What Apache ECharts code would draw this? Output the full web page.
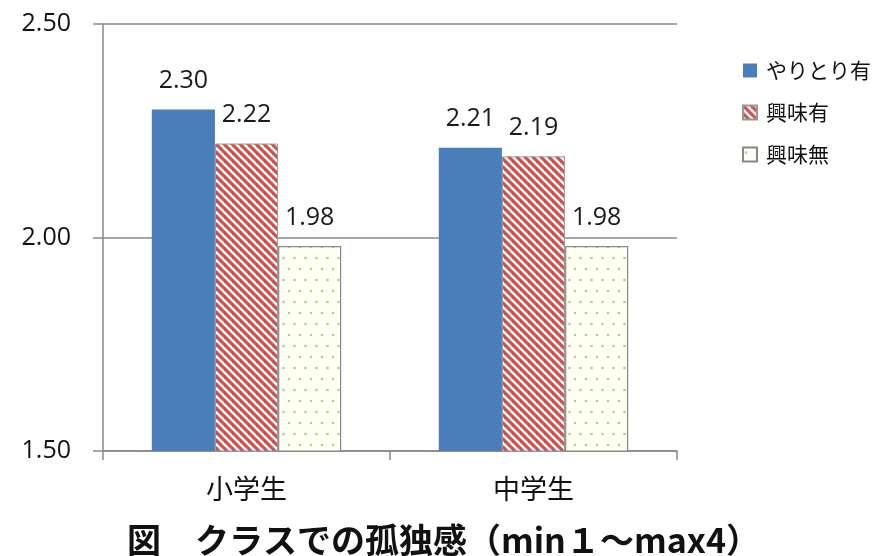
<!DOCTYPE html>
<html><head><meta charset="utf-8">
<script src="https://cdn.jsdelivr.net/npm/echarts@6/dist/echarts.min.js"></script>
<style>html,body{margin:0;padding:0;background:#fff}#c{width:891px;height:556px}</style>
</head><body><div id="c"></div>
<script>
const categories = ['小学生', '中学生'];
const seriesNames = ['やりとり有', '興味有', '興味無'];
const exchangeValues = [2.30, 2.21];
const interestValues = [2.22, 2.19];
const noInterestValues = [1.98, 1.98];
const titleText = '図　クラスでの孤独感（min１～max4）';

function stripe() {
  const c = document.createElement('canvas'); c.width = 8; c.height = 8;
  const g = c.getContext('2d');
  g.fillStyle = '#ffffff'; g.fillRect(0, 0, 8, 8);
  g.strokeStyle = '#d0504d'; g.lineWidth = 3.2;
  [[-8,-8,16,16],[-8,0,8,16],[0,-8,16,8]].forEach(l => { g.beginPath(); g.moveTo(l[0],l[1]); g.lineTo(l[2],l[3]); g.stroke(); });
  return c;
}
function dots() {
  const c = document.createElement('canvas'); c.width = 11; c.height = 22;
  const g = c.getContext('2d');
  g.fillStyle = '#fffff4'; g.fillRect(0, 0, 11, 22);
  g.fillStyle = '#b4cc8c';
  [[3,5],[8.5,16]].forEach(p => { g.beginPath(); g.arc(p[0], p[1], 1.3, 0, Math.PI*2); g.fill(); });
  return c;
}
const chart = echarts.init(document.getElementById('c'));
const font = '"Noto Sans CJK JP", "Noto Sans", sans-serif';
const numFont = '"Open Sans", "Noto Sans", sans-serif';
const labelCfg = { show: true, position: 'top', distance: 16, fontSize: 25, color: '#1a1a1a', fontFamily: numFont, formatter: p => p.value.toFixed(2) };
chart.setOption({
  animation: false,
  title: { text: titleText, left: 122, top: 518, textStyle: { fontSize: 34, fontWeight: 'bold', color: '#111', fontFamily: font } },
  legend: { orient: 'vertical', left: 737, top: 55, itemWidth: 14, itemHeight: 14, itemGap: 21, icon: 'rect',
    textStyle: { fontSize: 21, color: '#111', fontFamily: font, padding: [0, 0, 0, 4] }, data: seriesNames },
  grid: { left: 103, right: 214, top: 24, bottom: 105, containLabel: false },
  xAxis: { type: 'category', data: categories,
    axisLine: { lineStyle: { color: '#888', width: 1.5 } },
    axisTick: { show: true, length: 9, lineStyle: { color: '#888', width: 1.5 } },
    axisLabel: { fontSize: 27, color: '#111', margin: 24, fontFamily: font } },
  yAxis: { type: 'value', min: 1.5, max: 2.5, interval: 0.5,
    axisLine: { show: true, lineStyle: { color: '#888', width: 1.5 } },
    axisTick: { show: true, length: 10, lineStyle: { color: '#888', width: 1.5 } },
    splitLine: { lineStyle: { color: '#888', width: 1.5 } },
    axisLabel: { fontSize: 25, color: '#111', margin: 32, fontFamily: numFont, formatter: v => v.toFixed(2) } },
  series: [
    { name: seriesNames[0], type: 'bar', data: exchangeValues, barGap: '0%', barCategoryGap: '34%',
      itemStyle: { color: '#4a7ebb' }, label: labelCfg },
    { name: seriesNames[1], type: 'bar', data: interestValues,
      itemStyle: { color: { image: stripe(), repeat: 'repeat' }, borderColor: '#999', borderWidth: 1 }, label: labelCfg },
    { name: seriesNames[2], type: 'bar', data: noInterestValues,
      itemStyle: { color: { image: dots(), repeat: 'repeat' }, borderColor: '#888', borderWidth: 1.2 }, label: labelCfg }
  ]
});
</script></body></html>
